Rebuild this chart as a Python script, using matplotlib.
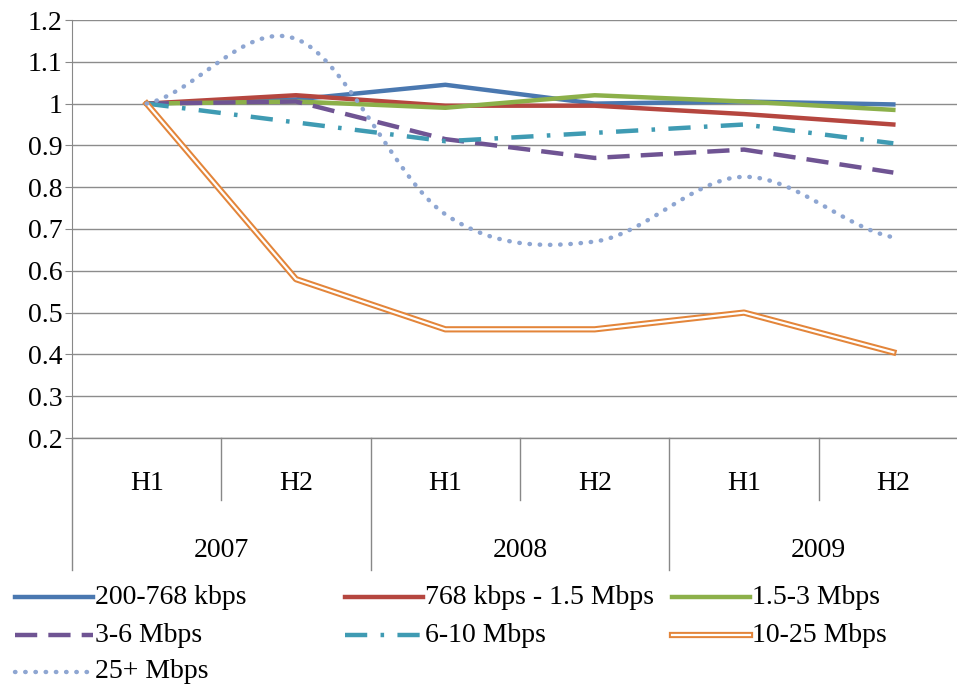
import matplotlib.pyplot as plt
import numpy as np
from matplotlib.lines import Line2D

plt.rcParams['font.family'] = ['Liberation Serif', 'DejaVu Serif']

halves = ['H1', 'H2', 'H1', 'H2', 'H1', 'H2']
years = ['2007', '2008', '2009']

s_200_768 = [1.0, 1.01, 1.045, 1.0, 1.005, 0.998]
s_768_15 = [1.0, 1.02, 0.995, 0.995, 0.975, 0.95]
s_15_3 = [1.0, 1.005, 0.99, 1.02, 1.005, 0.985]
s_3_6 = [1.0, 1.005, 0.915, 0.87, 0.89, 0.835]
s_6_10 = [1.0, 0.955, 0.91, 0.93, 0.95, 0.905]
s_10_25 = [1.0, 0.58, 0.46, 0.46, 0.50, 0.405]
s_25 = [1.0, 1.155, 0.735, 0.67, 0.825, 0.68]

labels = ['200-768 kbps', '768 kbps - 1.5 Mbps', '1.5-3 Mbps', '3-6 Mbps',
          '6-10 Mbps', '10-25 Mbps', '25+ Mbps']
fs = 20


def smooth(y, n=20):
    # Catmull-Rom style smoothing like Excel's smoothed line
    p = np.array(y, dtype=float)
    x = np.arange(len(p), dtype=float)
    xs, ys = [], []
    for i in range(len(p) - 1):
        p0 = p[i - 1] if i > 0 else p[i]
        p3 = p[i + 2] if i + 2 < len(p) else p[i + 1]
        t = np.linspace(0, 1, n, endpoint=False)
        m1 = (p[i + 1] - p0) / 2
        m2 = (p3 - p[i]) / 2
        h00 = 2 * t**3 - 3 * t**2 + 1
        h10 = t**3 - 2 * t**2 + t
        h01 = -2 * t**3 + 3 * t**2
        h11 = t**3 - t**2
        ys.extend(h00 * p[i] + h10 * m1 + h01 * p[i + 1] + h11 * m2)
        xs.extend(x[i] + t)
    xs.append(x[-1])
    ys.append(p[-1])
    return np.array(xs), np.array(ys)


fig = plt.figure(figsize=(9.57, 6.87), dpi=100)
ax = fig.add_axes([72 / 957, 1 - 438 / 687, 896 / 957, 418 / 687])
x = np.arange(6)
lw = 3.2

styles = [
    dict(color='#4a78b0', lw=lw, ls='-'),
    dict(color='#b5463f', lw=lw, ls='-'),
    dict(color='#8cb04a', lw=lw, ls='-'),
    dict(color='#6f5493', lw=lw, ls=(0, (5, 2.5))),
    dict(color='#3f9bb3', lw=lw, ls=(0, (5, 3, 0.8, 3))),
    None,
    dict(color='#8ea6d2', lw=lw, ls=(0, (0.1, 2.2)), dash_capstyle='round'),
]

ax.plot(x, s_200_768, **styles[0])
ax.plot(x, s_768_15, **styles[1])
ax.plot(x, s_15_3, **styles[2])
ax.plot(x, s_3_6, **styles[3])
ax.plot(x, s_6_10, **styles[4])
ax.plot(x, s_10_25, color='#e3853a', lw=4.5)
ax.plot(x, s_10_25, color='white', lw=1.6)
xs, ys = smooth(s_25)
ax.plot(xs, ys, **styles[6])

ax.set_xlim(-0.5, 5.5)
ax.set_ylim(0.2, 1.2)
ax.set_yticks(np.arange(0.2, 1.21, 0.1))
ax.set_yticklabels(['0.2', '0.3', '0.4', '0.5', '0.6', '0.7', '0.8', '0.9', '1', '1.1', '1.2'])
ax.tick_params(axis='y', labelsize=fs, length=5, pad=2, color='#888888')
ax.set_xticks([])
ax.grid(axis='y', color='#8c8c8c', lw=1)
ax.set_axisbelow(True)
for s in ['top', 'right', 'bottom']:
    ax.spines[s].set_visible(False)
ax.spines['left'].set_color('#888888')

# category axis
tr = ax.get_xaxis_transform()
ax.plot([-0.5, 5.5], [0, 0], color='#888888', lw=1, transform=tr, clip_on=False)
for i in range(7):
    bottom = -0.316 if i % 2 == 0 else -0.148
    ax.plot([i - 0.5, i - 0.5], [0, bottom], color='#888888', lw=1, transform=tr, clip_on=False)
for i, h in enumerate(halves):
    ax.text(i, -0.11, h, transform=tr, ha='center', va='center', fontsize=fs)
for i, yr in enumerate(years):
    ax.text(2 * i + 0.5, -0.27, yr, transform=tr, ha='center', va='center', fontsize=fs)

# legend laid out like Excel's (row-wise)
pos = [(15, 597), (345, 597), (672, 597), (15, 635), (345, 635), (672, 635), (15, 672)]
for k, (lab, (px, py)) in enumerate(zip(labels, pos)):
    fx0, fx1, fy = px / 957, (px + 78) / 957, 1 - py / 687
    if styles[k] is None:
        fig.add_artist(Line2D([fx0, fx1], [fy, fy], color='#e3853a', lw=4.5))
        fig.add_artist(Line2D([fx0, fx1], [fy, fy], color='white', lw=1.6))
    else:
        fig.add_artist(Line2D([fx0, fx1], [fy, fy], **styles[k]))
    fig.text(fx1 + 2 / 957, fy, lab, ha='left', va='center', fontsize=fs)

fig.savefig('out.png', dpi=100)
